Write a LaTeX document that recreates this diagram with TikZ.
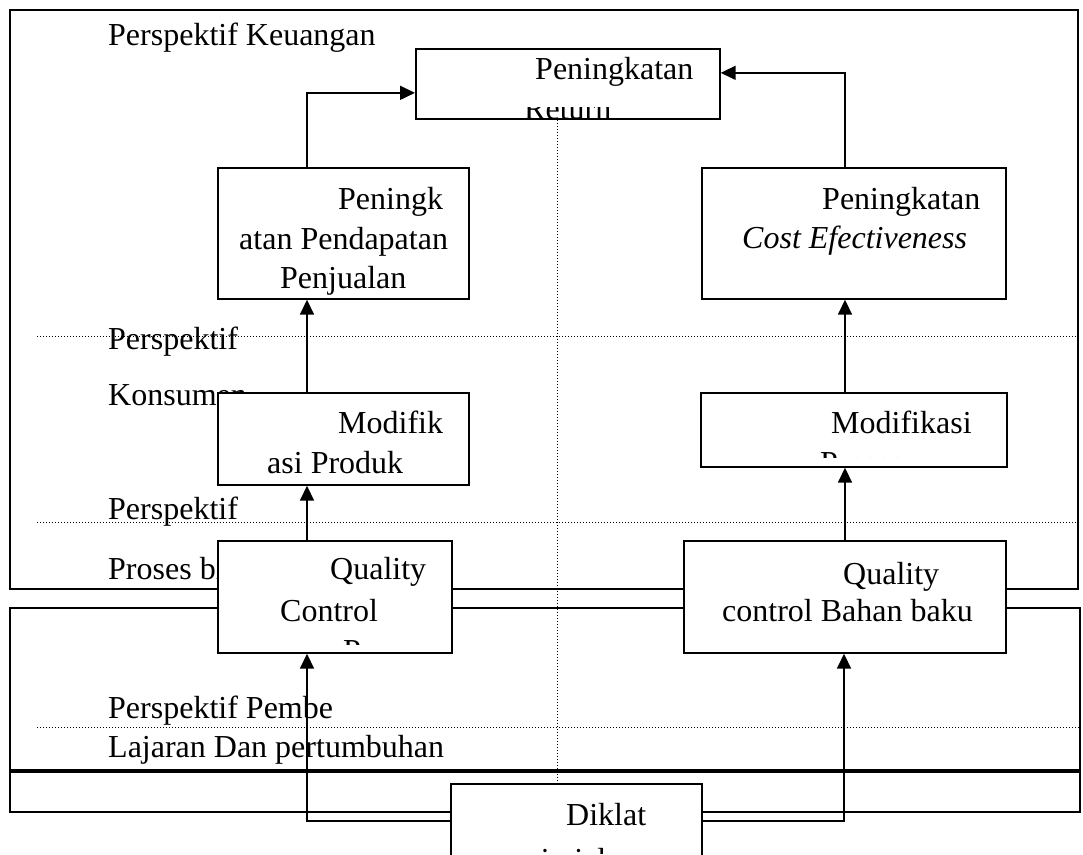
\documentclass[tikz,border=0pt]{standalone}
\usepackage{fontspec}
\setmainfont{Liberation Serif}
\usetikzlibrary{arrows.meta,calc}
\begin{document}
\begin{tikzpicture}[x=1pt,y=-1pt,
  box/.style={draw,line width=1.7pt,fill=white,anchor=north west,inner sep=0pt},
  frame/.style={draw,line width=2.6pt},
  conn/.style={line width=1.7pt},
  arr/.style={conn,-{Triangle[length=15pt,width=14pt]}},
  sep/.style={line width=1pt,dash pattern=on 1pt off 2pt},
  txt/.style={anchor=base west,inner sep=0pt,font=\fontsize{32}{40}\selectfont}]
\useasboundingbox (0,0) rectangle (1083,854);
% outer frames
\draw[frame] (10,10) rectangle (1078,589);
\draw[frame] (10,608) rectangle (1080,812);
\draw[line width=4pt] (10,771) -- (1080,771);
% separators
\draw[sep] (37,336) -- (1080,336);
\draw[sep] (37,522) -- (1080,522);
\draw[sep] (37,727) -- (1080,727);
% perspective labels
\node[txt] (l1) at (108,45) {Perspektif Keuangan};
\node[txt] (l2) at (108,349) {Perspektif};
\node[txt] (l3) at (108,405) {Konsumen};
\node[txt] (l4) at (108,519) {Perspektif};
\node[txt] (l5) at (108,579) {Proses bisnis};
\node[txt] (l6) at (108,718) {Perspektif Pembe};
\node[txt] (l7) at (108,757) {Lajaran Dan pertumbuhan};
% columns
\coordinate (lx) at (307,0);
\coordinate (rx) at (845,0);
% boxes
\node[box,minimum width=304pt,minimum height=70pt] (ret) at (415,48) {};
\node[box,minimum width=251pt,minimum height=131pt] (pen) at (217,167) {};
\node[box,minimum width=304pt,minimum height=131pt] (cost) at (701,167) {};
\node[box,minimum width=251pt,minimum height=92pt] (mod) at (217,392) {};
\node[box,minimum width=306pt,minimum height=74pt] (modp) at (700,392) {};
% connectors
\draw[arr] (pen.north -| lx) |- ([yshift=-9pt]ret.west);
\draw[arr] (cost.north -| rx) |- ([yshift=11pt]ret.east);
\draw[arr] (mod.north -| lx) -- (pen.south -| lx);
\draw[arr] (modp.north -| rx) -- (cost.south -| rx);
\node[box,minimum width=234pt,minimum height=112pt] (qc) at (217,540) {};
\node[box,minimum width=322pt,minimum height=112pt] (qcb) at (683,540) {};
\draw[arr] (qc.north -| lx) -- (mod.south -| lx);
\draw[arr] (qcb.north -| rx) -- (modp.south -| rx);
\node[box,minimum width=251pt,minimum height=100pt] (dik) at (450,783) {};
\draw[arr] ([yshift=-38pt]dik.north west) -| (qc.south -| lx);
\draw[arr] ([yshift=-38pt]dik.north east) -| ([xshift=-1pt]qcb.south -| rx);
\draw[sep] ([xshift=142pt]ret.south west) -- ([xshift=107pt]dik.north west);
% box texts
\node[txt] (t1) at (535,79) {Peningkatan};
\begin{scope}
\clip (ret.south west) rectangle ([yshift=-24pt]ret.east);
\node[txt] (t2) at (524,119) {Return};
\end{scope}
\node[txt] (t3) at (338,209) {Peningk};
\node[txt] (t4) at (239,249) {atan Pendapatan};
\begin{scope}
\clip (pen.north west) rectangle ([yshift=5pt]pen.south east);
\node[txt] (t5) at (280,288) {Penjualan};
\end{scope}
\node[txt] (t6) at (822,209) {Peningkatan};
\node[txt] (t7) at (742,248) {\itshape Cost Efectiveness};
\node[txt] (t8) at (338,433) {Modifik};
\node[txt] (t9) at (267,473) {asi Produk};
\node[txt] (t10) at (831,433) {Modifikasi};
\begin{scope}
\clip (modp.north west) rectangle ([yshift=10pt]modp.south east);
\node[txt] (t11) at (820,473) {Proses};
\end{scope}
\node[txt] (t12) at (330,579) {Quality};
\node[txt] (t13) at (280,621) {Control};
\begin{scope}
\clip (qc.north west) rectangle ([yshift=9pt]qc.south east);
\node[txt] (t14) at (343,661) {Proses};
\end{scope}
\node[txt] (t15) at (843,584) {Quality};
\node[txt] (t16) at (722,621) {control Bahan baku};
\node[txt] (t17) at (566,825) {Diklat};
\begin{scope}
\clip (dik.north west) rectangle (701,853);
\node[txt] (t18) at (471,870) {manajerial};
\end{scope}
\end{tikzpicture}
\end{document}
